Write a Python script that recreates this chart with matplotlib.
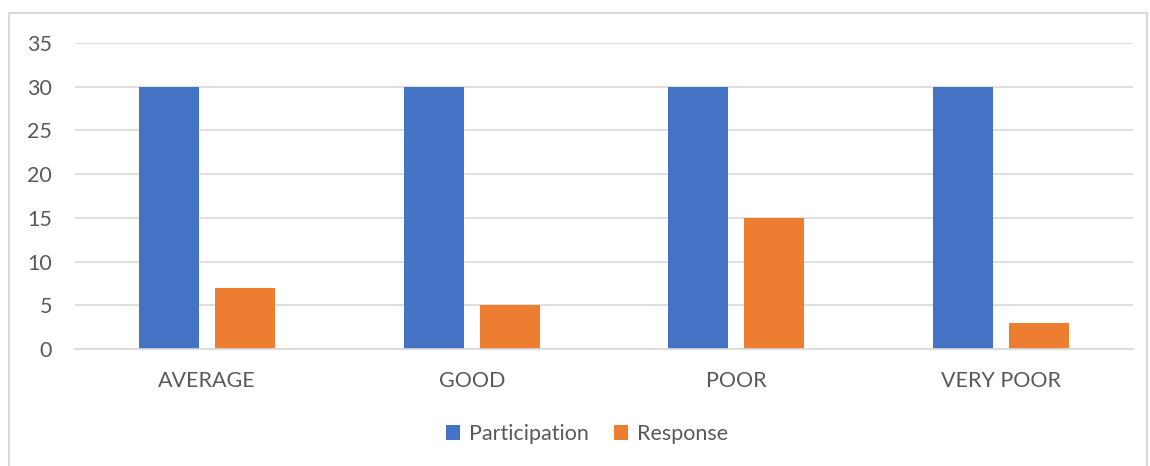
import numpy as np
import matplotlib.pyplot as plt
from matplotlib.patches import Rectangle

categories = ["AVERAGE", "GOOD", "POOR", "VERY POOR"]
participation = [30, 30, 30, 30]
response = [7, 5, 15, 3]
yticks = [0, 5, 10, 15, 20, 25, 30, 35]

plt.rcParams['font.family'] = ['Lato', 'DejaVu Sans']

W, H = 1150, 466
fig = plt.figure(figsize=(W / 100, H / 100), dpi=100)

# outer chart frame (bottom edge runs off the figure)
frame = Rectangle((9 / W, -0.05), (1147 - 9) / W, 1.05 - 13 / H,
                  transform=fig.transFigure, fill=False,
                  edgecolor='#d9d9d9', linewidth=1.5)
fig.patches.append(frame)

left, right, top, bottom = 75, 1133, 43, 349
ax = fig.add_axes([left / W, 1 - bottom / H, (right - left) / W, (bottom - top) / H])

x = np.arange(len(categories))
w = 0.227
off = 0.144
ax.bar(x - off, participation, w, color='#4472c4', label='Participation', zorder=3)
ax.bar(x + off, response, w, color='#ed7d31', label='Response', zorder=3)

ax.set_xlim(-0.5, len(categories) - 0.5)
ax.set_ylim(0, 35)
ax.set_yticks(yticks)
ax.yaxis.grid(True, color='#d9d9d9', linewidth=1.2, zorder=0)
ax.set_xticks(x)
ax.set_xticklabels(categories)

for s in ['top', 'right', 'left']:
    ax.spines[s].set_visible(False)
ax.spines['bottom'].set_color('#d9d9d9')
ax.spines['bottom'].set_linewidth(1.2)
ax.spines['bottom'].set_zorder(4)

ax.tick_params(axis='both', length=0, labelsize=15.5, labelcolor='#595959')
ax.tick_params(axis='y', pad=16.5)
ax.tick_params(axis='x', pad=15.5)

ax.legend(loc='center', bbox_to_anchor=(587 / W, 1 - 434 / H), bbox_transform=fig.transFigure,
          ncol=2, frameon=False, fontsize=15.5, labelcolor='#595959',
          handlelength=0.65, handleheight=0.65, handletextpad=0.4, columnspacing=1.2)

fig.savefig('out.png', dpi=100)
